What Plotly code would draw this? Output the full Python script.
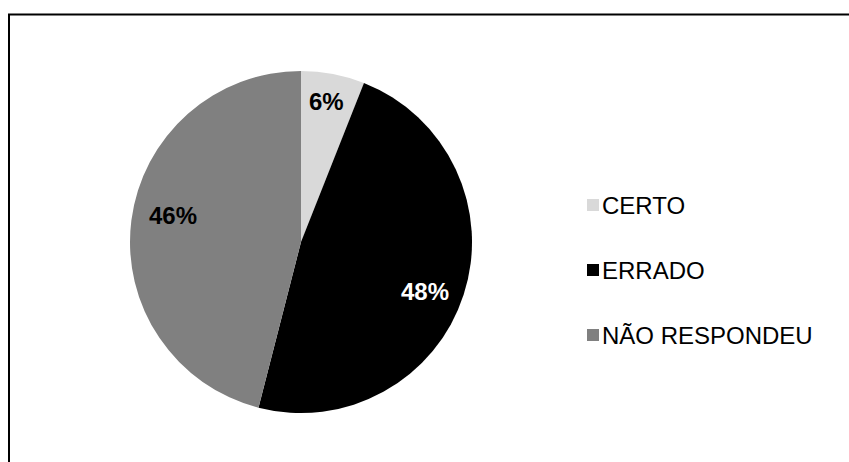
import math
import plotly.graph_objects as go

# Answers to the question and their shares (%)
categories = ["CERTO", "ERRADO", "NÃO RESPONDEU"]
shares = [6, 48, 46]
slice_colors = ["#d9d9d9", "#000000", "#808080"]
label_font_colors = ["#000000", "#ffffff", "#000000"]

W, H = 849, 462

# Pie placement in pixels
CX, CY, R = 301, 242, 171

# Data label placement: fraction of radius and small angular nudge (deg)
LABEL_R = [0.835, 0.78, 0.765]
LABEL_NUDGE = [-0.7, 4.0, 4.5]

# Legend layout in pixels
LEG_SQ_X0, LEG_SQ_SIZE = 587, 12
LEG_TEXT_X = 600
LEG_Y0, LEG_STEP = 205, 65


def px(x):
    return x / W


def py(y):
    return 1 - y / H


fig = go.Figure(
    go.Pie(
        labels=categories,
        values=shares,
        sort=False,
        direction="clockwise",
        rotation=0,
        marker=dict(colors=slice_colors, line=dict(width=0)),
        textinfo="none",
        hoverinfo="label+percent",
        showlegend=False,
        domain=dict(x=[px(CX - R), px(CX + R)], y=[py(CY + R), py(CY - R)]),
    )
)

annotations = []
shapes = []

# Percentage labels placed on each slice's bisector
total = sum(shares)
start = 0.0
for i, v in enumerate(shares):
    sweep = 360.0 * v / total
    mid = math.radians(start + sweep / 2 + LABEL_NUDGE[i])
    r = R * LABEL_R[i]
    lx = CX + r * math.sin(mid)
    ly = CY - r * math.cos(mid)
    annotations.append(
        dict(
            x=px(lx), y=py(ly), xref="paper", yref="paper",
            text=f"<b>{round(100 * v / total)}%</b>",
            showarrow=False, xanchor="center", yanchor="middle",
            font=dict(family="Liberation Sans, Arial, sans-serif", size=24,
                      color=label_font_colors[i]),
        )
    )
    start += sweep

# Legend: colored squares with category names
for i, name in enumerate(categories):
    yc = LEG_Y0 + i * LEG_STEP
    shapes.append(
        dict(
            type="rect", xref="paper", yref="paper",
            x0=px(LEG_SQ_X0), x1=px(LEG_SQ_X0 + LEG_SQ_SIZE),
            y0=py(yc + LEG_SQ_SIZE / 2), y1=py(yc - LEG_SQ_SIZE / 2),
            fillcolor=slice_colors[i], line=dict(width=0),
        )
    )
    annotations.append(
        dict(
            x=px(LEG_TEXT_X), y=py(yc), xref="paper", yref="paper",
            text=name, showarrow=False, xanchor="left", yanchor="middle",
            font=dict(family="Liberation Sans, Arial, sans-serif", size=24,
                      color="#000000"),
        )
    )

# Chart area frame
shapes.append(
    dict(
        type="rect", xref="paper", yref="paper",
        x0=px(9), x1=px(W + 20), y0=py(H + 20), y1=py(14.5),
        line=dict(color="#000000", width=2), fillcolor="rgba(0,0,0,0)",
        layer="above",
    )
)

fig.update_layout(
    width=W, height=H,
    margin=dict(l=0, r=0, t=0, b=0),
    paper_bgcolor="#ffffff",
    plot_bgcolor="#ffffff",
    showlegend=False,
    annotations=annotations,
    shapes=shapes,
)

fig.write_html("out.html")
